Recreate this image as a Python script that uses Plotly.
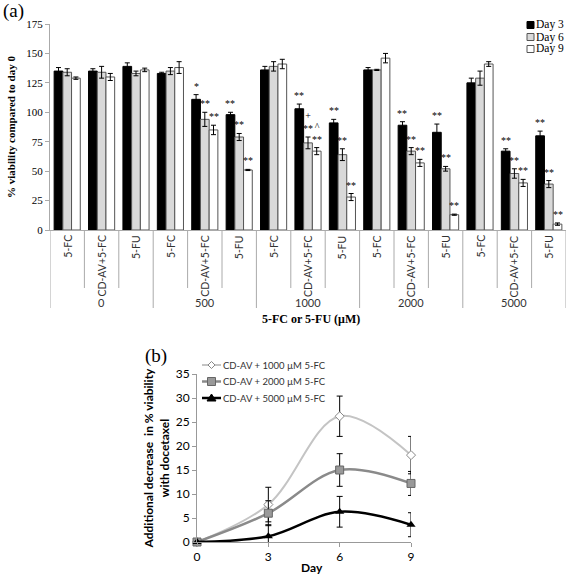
import plotly.graph_objects as go

# ---------------- Panel (a) data ----------------
groups = ["0", "500", "1000", "2000", "5000"]
treatments = ["5-FC", "CD-AV+5-FC", "5-FU"]
days = ["Day 3", "Day 6", "Day 9"]

day3 = [135, 135, 139, 133, 111, 98, 136, 103, 91, 136, 89, 83, 125, 67, 80]
day6 = [134, 134, 133, 135, 94, 79, 139, 74, 64, 136, 67, 52, 129, 48, 39]
day9 = [129, 130, 136, 138, 85, 51, 141, 67, 28, 146, 57, 13, 141, 40, 5]
err3 = [3, 2, 3, 1, 4, 2, 3, 4, 3, 2, 3, 7, 4, 2, 4]
err6 = [3, 5, 2, 3, 6, 3, 4, 5, 5, 0.5, 3, 2, 6, 4, 3]
err9 = [1, 3, 1.5, 5, 4, 0.5, 4, 3, 3, 4, 3, 0.5, 2, 3, 1]

sig3 = ["", "", "", "", "*", "**", "", "**", "**", "", "**", "**", "", "**", "**"]
sig6 = ["", "", "", "", "**", "**", "", "+<br>**", "**", "", "**", "**", "", "**", "**"]
sig9 = ["", "", "", "", "**", "**", "", "^<br>**", "**", "", "**", "**", "", "**", "**"]

# ---------------- Panel (b) data ----------------
days_b = [0, 3, 6, 9]
series_b = ["CD-AV + 1000 µM 5-FC", "CD-AV + 2000 µM 5-FC", "CD-AV + 5000 µM 5-FC"]
v1000 = [0, 7.8, 26.2, 18.1]
e1000 = [0, 3.6, 4.2, 3.9]
v2000 = [0, 6.0, 15.0, 12.2]
e2000 = [0, 2.6, 3.4, 2.5]
v5000 = [0, 1.2, 6.3, 3.6]
e5000 = [0, 2.4, 3.2, 2.5]

SERIF = "Liberation Serif"
SANS = "Lato"

W, H = 567, 574


def X(p):
    return p / W


def Y(p):
    return 1 - p / H


fig = go.Figure()

xs = list(range(len(day3)))
bar_fill = ["black", "#d9d9d9", "white"]
bar_line = ["black", "#555555", "#555555"]
for name, vals, errs, fc, lc in zip(days, [day3, day6, day9], [err3, err6, err9], bar_fill, bar_line):
    fig.add_trace(go.Bar(
        x=xs, y=vals, name=name, marker=dict(color=fc, line=dict(color=lc, width=1)),
        error_y=dict(type="data", array=errs, color="black", thickness=1, width=2.5),
        xaxis="x", yaxis="y", showlegend=False,
    ))

fig.update_layout(barmode="group", bargap=0.24, bargroupgap=0.0)

# significance markers
bw = (1 - 0.24) / 3
annotations = []
shapes = []
for k, (vals, errs, sig) in enumerate(zip([day3, day6, day9], [err3, err6, err9], [sig3, sig6, sig9])):
    for i, s in enumerate(sig):
        if s:
            annotations.append(dict(
                x=i + (k - 1) * bw, y=vals[i] + errs[i], xref="x", yref="y",
                text=s, showarrow=False, yanchor="bottom", yshift=1,
                font=dict(family=SERIF, size=10, color="black"),
            ))

# category labels (rotated) and group labels
ncat = len(treatments)
for gi, g in enumerate(groups):
    for ti, t in enumerate(treatments):
        idx = gi * ncat + ti
        annotations.append(dict(
            x=idx, y=Y(233), xref="x", yref="paper", text=t, textangle=-90,
            showarrow=False, yanchor="top", xanchor="center",
            font=dict(family=SANS, size=10.5, color="#333333"),
        ))
    annotations.append(dict(
        x=gi * ncat + 1, y=Y(302), xref="x", yref="paper", text=g,
        showarrow=False, yanchor="middle",
        font=dict(family=SANS, size=11, color="#333333"),
    ))

annotations.append(dict(x=X(311), y=Y(319), xref="paper", yref="paper",
                        text="<b>5-FC or 5-FU (μM)</b>", showarrow=False,
                        font=dict(family=SERIF, size=12, color="black")))
annotations.append(dict(x=X(1), y=Y(-2), xref="paper", yref="paper", xanchor="left",
                        yanchor="top", text="(a)", showarrow=False,
                        font=dict(family=SERIF, size=19, color="black")))
annotations.append(dict(x=X(143), y=Y(343), xref="paper", yref="paper", xanchor="left",
                        yanchor="top", text="(b)", showarrow=False,
                        font=dict(family=SERIF, size=19, color="black")))
annotations.append(dict(x=X(312), y=Y(567), xref="paper", yref="paper",
                        text="<b>Day</b>", showarrow=False, yanchor="middle",
                        font=dict(family=SANS, size=12, color="black")))

# separator lines below axis
for b in range(len(day3) + 1):
    major = (b % ncat == 0)
    shapes.append(dict(type="line", xref="x", yref="paper",
                       x0=b - 0.5, x1=b - 0.5, y0=Y(230),
                       y1=Y(308 if major else 288),
                       line=dict(color="#aaaaaa", width=1)))

# ---- custom legend for panel (a) ----
for j, (name, fc, lc) in enumerate(zip(days, bar_fill, bar_line)):
    yc = 25 + 12 * j
    shapes.append(dict(type="rect", xref="paper", yref="paper",
                       x0=X(527), x1=X(534), y0=Y(yc - 3.5), y1=Y(yc + 3.5),
                       fillcolor=fc, line=dict(color=lc, width=1)))
    annotations.append(dict(x=X(535), y=Y(yc), xref="paper", yref="paper", text=name,
                            xanchor="left", yanchor="middle", showarrow=False,
                            borderpad=0, font=dict(family=SERIF, size=11.5, color="black")))

# ---------------- Panel (b) traces ----------------
line_colors = ["#c4c4c4", "#8a8a8a", "black"]
line_widths = [2, 2.5, 2.5]
marker_defs = [
    dict(symbol="diamond", size=7, color="white", line=dict(color="#888888", width=1)),
    dict(symbol="square", size=8, color="#999999", line=dict(color="#666666", width=1)),
    dict(symbol="triangle-up", size=8, color="black"),
]
for name, vals, errs, lc, lw, mk in zip(series_b, [v1000, v2000, v5000], [e1000, e2000, e5000],
                                        line_colors, line_widths, marker_defs):
    fig.add_trace(go.Scatter(
        x=days_b, y=vals, name=name, mode="lines+markers", line_shape="spline",
        line=dict(color=lc, width=lw), marker=mk,
        error_y=dict(type="data", array=errs, color="black", thickness=1, width=3),
        xaxis="x2", yaxis="y2", showlegend=False, cliponaxis=False,
    ))

# ---- custom legend for panel (b) ----
for j, name in enumerate(series_b):
    yc = 365 + 16.5 * j
    shapes.append(dict(type="line", xref="paper", yref="paper",
                       x0=X(202), x1=X(221), y0=Y(yc), y1=Y(yc),
                       line=dict(color=line_colors[j], width=line_widths[j])))
    cx = 211.5
    if j == 0:
        path = "M {} {} L {} {} L {} {} L {} {} Z".format(
            X(cx), Y(yc - 3.5), X(cx + 3.5), Y(yc), X(cx), Y(yc + 3.5), X(cx - 3.5), Y(yc))
        shapes.append(dict(type="path", xref="paper", yref="paper", path=path,
                           fillcolor="white", line=dict(color="#888888", width=1)))
    elif j == 1:
        shapes.append(dict(type="rect", xref="paper", yref="paper",
                           x0=X(cx - 4), x1=X(cx + 4), y0=Y(yc - 4), y1=Y(yc + 4),
                           fillcolor="#999999", line=dict(color="#666666", width=1)))
    else:
        path = "M {} {} L {} {} L {} {} Z".format(
            X(cx), Y(yc - 4), X(cx + 4.5), Y(yc + 3), X(cx - 4.5), Y(yc + 3))
        shapes.append(dict(type="path", xref="paper", yref="paper", path=path,
                           fillcolor="black", line=dict(color="black", width=1)))
    annotations.append(dict(x=X(222), y=Y(yc), xref="paper", yref="paper", text=name,
                            xanchor="left", yanchor="middle", showarrow=False, borderpad=0,
                            font=dict(family=SANS, size=9.5, color="#333333")))

fig.update_layout(
    width=W, height=H,
    margin=dict(l=0, r=0, t=0, b=0, autoexpand=False),
    paper_bgcolor="white", plot_bgcolor="white",
    showlegend=False,
    xaxis=dict(domain=[X(50), X(566)], range=[-0.5, len(day3) - 0.5], automargin=False,
               showticklabels=False, ticks="", showgrid=False, zeroline=False,
               showline=True, linecolor="#aaaaaa", linewidth=1),
    yaxis=dict(domain=[Y(230), Y(24)], range=[0, 175], dtick=25, automargin=False,
               showgrid=False, zeroline=False, showline=True, linecolor="#aaaaaa",
               ticks="outside", ticklen=4, tickcolor="#aaaaaa",
               tickfont=dict(family=SERIF, size=11, color="black"),
               title=dict(text="<b>% viability compared to day 0</b>", standoff=8,
                          font=dict(family=SERIF, size=11, color="black"))),
    xaxis2=dict(domain=[X(197), X(411)], range=[0, 9], tickvals=days_b, automargin=False,
                showgrid=False, zeroline=False, showline=True, linecolor="#999999",
                ticks="outside", ticklen=4, tickcolor="#999999", anchor="y2",
                tickfont=dict(family=SANS, size=12, color="black")),
    yaxis2=dict(domain=[Y(542), Y(374)], range=[0, 35], dtick=5, automargin=False,
                showgrid=False, zeroline=False, showline=True, linecolor="#999999",
                ticks="outside", ticklen=4, tickcolor="#999999", anchor="x2",
                tickfont=dict(family=SANS, size=12, color="black"),
                title=dict(text="<b>Additional decrease  in % viability<br>with docetaxel</b>",
                           standoff=3, font=dict(family=SANS, size=12, color="black"))),
    annotations=annotations,
    shapes=shapes,
)

fig.write_html("out.html", config={"displayModeBar": False},
               post_script="document.body.style.margin='0';document.body.style.overflow='hidden';")
